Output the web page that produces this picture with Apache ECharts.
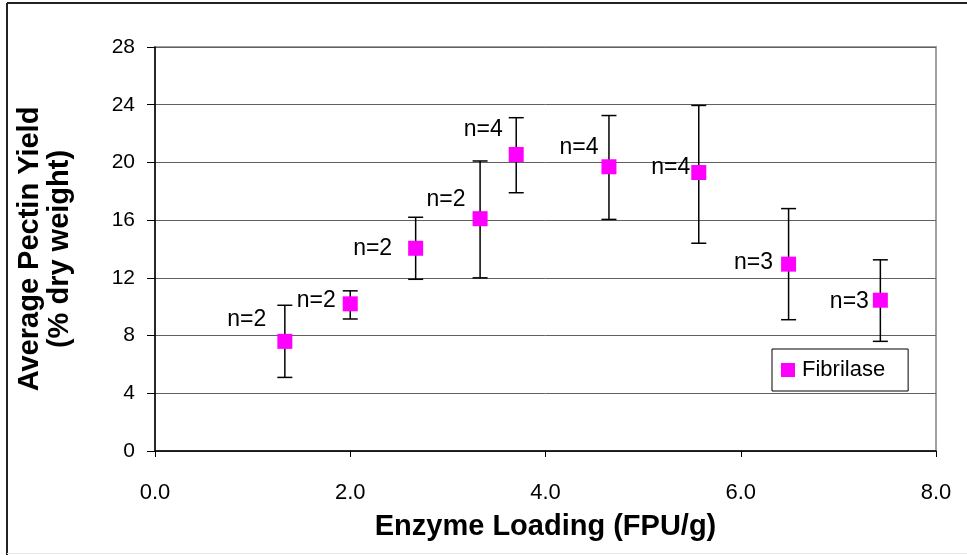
<!DOCTYPE html>
<html>
<head>
<meta charset="utf-8">
<script src="https://cdn.jsdelivr.net/npm/echarts@6/dist/echarts.min.js"></script>
<style>html,body{margin:0;padding:0;background:#fff;}#c{width:967px;height:555px;}</style>
</head>
<body>
<div id="c"></div>
<script>
// Data
var loadings = [1.33, 2.0, 2.67, 3.33, 3.7, 4.65, 5.57, 6.49, 7.43];
var yieldMeans = [7.6, 10.2, 14.05, 16.1, 20.55, 19.7, 19.3, 12.95, 10.45];
var yieldUpper = [10.1, 11.1, 16.2, 20.1, 23.1, 23.25, 23.95, 16.8, 13.25];
var yieldLower = [5.1, 9.15, 11.9, 12.0, 17.9, 16.05, 14.4, 9.1, 7.6];
var sampleLabels = ['n=2', 'n=2', 'n=2', 'n=2', 'n=4', 'n=4', 'n=4', 'n=3', 'n=3'];
var xTicks = ['0.0', '2.0', '4.0', '6.0', '8.0'];
var seriesName = 'Fibrilase';

// label placement offsets (style, not data)
var labelOffsets = [[-11, -22], [-7, -3], [-16, 0], [-7, -19], [-6, -25], [-3, -19], [-1, -5], [-8, -1], [-4, 1]];

var FONT = '"Liberation Sans", Arial, sans-serif';

var scatterData = loadings.map(function (x, i) {
  return {
    value: [x, yieldMeans[i]],
    label: {
      show: true,
      formatter: sampleLabels[i],
      position: 'left',
      distance: 0,
      offset: labelOffsets[i],
      fontSize: 23,
      fontFamily: FONT,
      color: '#000'
    }
  };
});
var errData = loadings.map(function (x, i) { return [x, yieldLower[i], yieldUpper[i]]; });

var chart = echarts.init(document.getElementById('c'), null, {renderer: 'canvas'});
chart.setOption({
  animation: false,
  backgroundColor: '#fff',
  textStyle: {fontFamily: FONT},
  grid: {left: 155, right: 31, top: 47, bottom: 104, show: true, borderColor: '#a0a0a0', borderWidth: 2, backgroundColor: 'transparent'},
  graphic: [
    {type: 'line', shape: {x1: 7, y1: 3, x2: 967, y2: 3}, style: {stroke: '#222', lineWidth: 2}},
    {type: 'line', shape: {x1: 7, y1: 3, x2: 7, y2: 555}, style: {stroke: '#222', lineWidth: 2}},
    {type: 'line', shape: {x1: 7, y1: 553.5, x2: 967, y2: 553.5}, style: {stroke: '#e6e6e6', lineWidth: 1}}
  ],
  legend: {
    data: [seriesName],
    left: 772, top: 349,
    padding: [10, 23, 10, 9],
    itemWidth: 14, itemHeight: 14, itemGap: 0,
    borderColor: '#000', borderWidth: 1,
    backgroundColor: '#fff',
    textStyle: {fontSize: 22, fontFamily: FONT, color: '#000', padding: [0, 0, 0, 2]}
  },
  xAxis: {
    type: 'value', min: 0, max: 8, interval: 2,
    name: 'Enzyme Loading (FPU/g)', nameLocation: 'middle', nameGap: 61,
    nameTextStyle: {fontSize: 29, fontWeight: 'bold', fontFamily: FONT, color: '#000'},
    axisLine: {show: true, onZero: false, lineStyle: {color: '#000', width: 1.5}},
    axisTick: {show: true, inside: false, length: 6, lineStyle: {color: '#000', width: 1}},
    axisLabel: {margin: 31, fontSize: 22, fontFamily: FONT, color: '#000',
      formatter: function (v) { var i = Math.round(v / 2); return xTicks[i] !== undefined ? xTicks[i] : v.toFixed(1); }},
    splitLine: {show: false}
  },
  yAxis: {
    type: 'value', min: 0, max: 28, interval: 4,
    name: 'Average Pectin Yield\n(% dry weight)', nameLocation: 'middle', nameGap: 80,
    nameTextStyle: {fontSize: 29, fontWeight: 'bold', fontFamily: FONT, color: '#000', lineHeight: 30, align: 'center'},
    axisLine: {show: true, onZero: false, lineStyle: {color: '#000', width: 1.5}},
    axisTick: {show: true, inside: false, length: 8, lineStyle: {color: '#000', width: 1}},
    axisLabel: {margin: 20, fontSize: 21, fontFamily: FONT, color: '#000'},
    splitLine: {show: true, lineStyle: {color: '#606060', width: 1}}
  },
  series: [
    {
      type: 'custom',
      name: 'err',
      silent: true,
      z: 2,
      data: errData,
      encode: {x: 0, y: [1, 2]},
      renderItem: function (params, api) {
        var x = api.value(0);
        var lo = api.coord([x, api.value(1)]);
        var hi = api.coord([x, api.value(2)]);
        var w = 7.5;
        var st = {stroke: '#000', lineWidth: 1.5};
        return {
          type: 'group',
          children: [
            {type: 'line', shape: {x1: lo[0], y1: lo[1], x2: hi[0], y2: hi[1]}, style: st},
            {type: 'line', shape: {x1: lo[0] - w, y1: lo[1], x2: lo[0] + w, y2: lo[1]}, style: st},
            {type: 'line', shape: {x1: hi[0] - w, y1: hi[1], x2: hi[0] + w, y2: hi[1]}, style: st}
          ]
        };
      }
    },
    {
      type: 'scatter',
      name: seriesName,
      symbol: 'rect',
      symbolSize: 15,
      z: 3,
      itemStyle: {color: '#ff00ff', opacity: 1},
      data: scatterData
    }
  ]
});
</script>
</body>
</html>
